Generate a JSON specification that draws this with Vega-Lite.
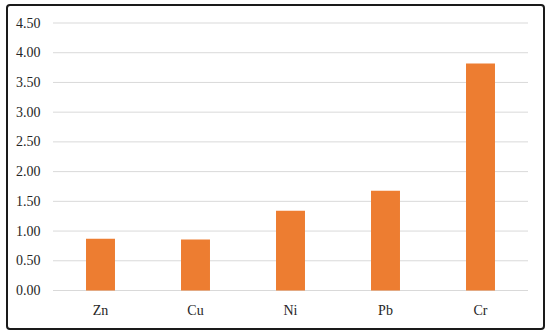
{
  "$schema": "https://vega.github.io/schema/vega-lite/v6.json",
  "width": 537,
  "height": 324,
  "autosize": {"type": "none"},
  "padding": {"left": 7, "top": 5, "right": 6, "bottom": 5},
  "background": "white",
  "config": {
    "view": {"stroke": "#1a1a1a", "strokeWidth": 2, "cornerRadius": 3},
    "font": "Liberation Serif",
    "axisY": {"labelOverlap": false, "labelFlush": false}
  },
  "datasets": {
    "metals": [
      {"metal": "Zn", "value": 0.87},
      {"metal": "Cu", "value": 0.86},
      {"metal": "Ni", "value": 1.34},
      {"metal": "Pb", "value": 1.68},
      {"metal": "Cr", "value": 3.82}
    ],
    "grid": [
      {"level": 0}, {"level": 0.5}, {"level": 1}, {"level": 1.5}, {"level": 2},
      {"level": 2.5}, {"level": 3}, {"level": 3.5}, {"level": 4}, {"level": 4.5}
    ]
  },
  "layer": [
    {
      "data": {"name": "grid"},
      "mark": {"type": "rule", "color": "#d9d9d9", "strokeWidth": 1},
      "encoding": {
        "y": {
          "field": "level", "type": "quantitative",
          "scale": {"domain": [0, 4.5], "range": [285.5, 18], "nice": false},
          "axis": {"title": null, "values": [0, 0.5, 1, 1.5, 2, 2.5, 3, 3.5, 4, 4.5], "format": ".2f", "grid": false, "domain": false, "ticks": false, "offset": -36, "labelPadding": 3, "labelFontSize": 14, "labelColor": "#262626", "labelFont": "Liberation Serif", "labelOverlap": false, "labelFlush": false}
        },
        "x": {"datum": 0, "type": "quantitative", "scale": {"domain": [0, 1], "range": [46, 521]}, "axis": null},
        "x2": {"datum": 1}
      }
    },
    {
      "data": {"name": "metals"},
      "mark": {"type": "bar", "color": "#ED7D31"},
      "encoding": {
        "x": {
          "field": "metal", "type": "nominal", "sort": null,
          "scale": {"range": [46, 521], "paddingInner": 0.695, "paddingOuter": 0.3475},
          "axis": {"title": null, "domain": false, "ticks": false, "labelAngle": 0, "offset": -28, "labelPadding": 2, "labelFontSize": 14, "labelColor": "#262626", "labelFont": "Liberation Serif"}
        },
        "y": {
          "field": "value", "type": "quantitative",
          "axis": {"title": null, "values": [0, 0.5, 1, 1.5, 2, 2.5, 3, 3.5, 4, 4.5], "format": ".2f", "grid": false, "domain": false, "ticks": false, "offset": -36, "labelPadding": 3, "labelFontSize": 14, "labelColor": "#262626", "labelFont": "Liberation Serif", "labelOverlap": false, "labelFlush": false}
        }
      }
    }
  ],
  "resolve": {"scale": {"x": "independent"}}
}
